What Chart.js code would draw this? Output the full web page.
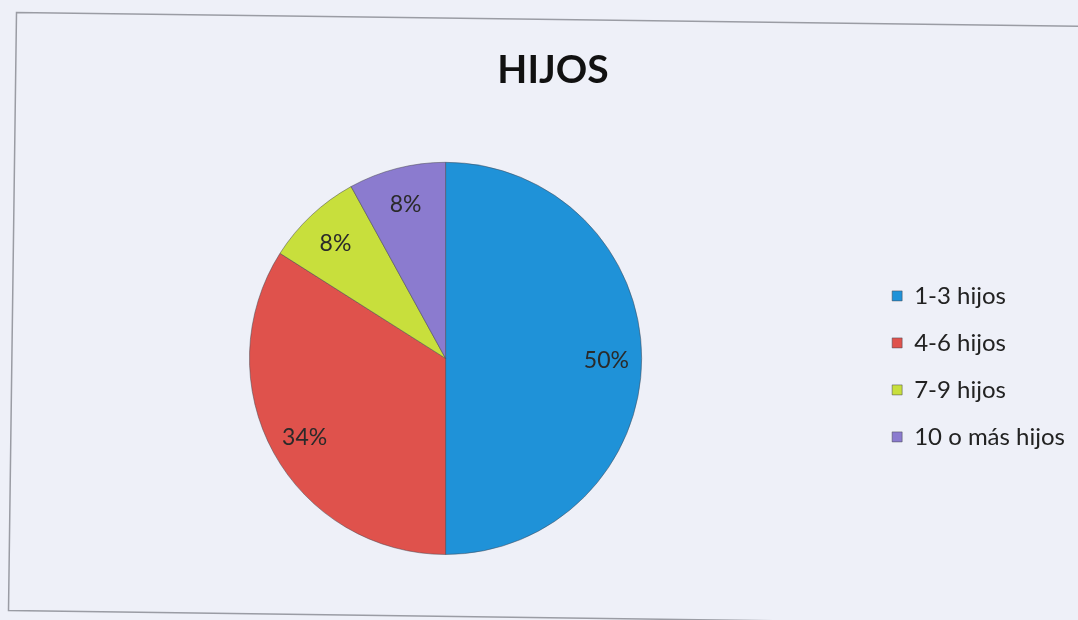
<!DOCTYPE html>
<html>
<head>
<meta charset="utf-8">
<script src="https://cdn.jsdelivr.net/npm/chart.js@4/dist/chart.umd.min.js"></script>
<style>
  html, body { margin: 0; padding: 0; background: #eef0f8; }
  #wrap { width: 1078px; height: 620px; position: relative; }
</style>
</head>
<body>
<div id="wrap"><canvas id="c" width="1078" height="620"></canvas></div>
<script>
const title = 'HIJOS';
const categories = ['1-3 hijos', '4-6 hijos', '7-9 hijos', '10 o más hijos'];
const values = [50, 34, 8, 8];
const colors = ['#1f92d8', '#df524c', '#c8df3c', '#8b7bcf'];

const bgPlugin = {
  id: 'bg',
  afterLayout(chart) {
    if (chart.titleBlock) chart.titleBlock.left += 9;
  },
  beforeDraw(chart) {
    const ctx = chart.ctx;
    ctx.save();
    ctx.fillStyle = '#eef0f8';
    ctx.fillRect(0, 0, chart.width, chart.height);
    ctx.strokeStyle = '#9a9ca4';
    ctx.lineWidth = 1.5;
    ctx.beginPath();
    ctx.moveTo(1090, 26.5);
    ctx.lineTo(16.5, 12.5);
    ctx.lineTo(8.5, 610.5);
    ctx.lineTo(1090, 625);
    ctx.stroke();
    ctx.restore();
  }
};

const labelPlugin = {
  id: 'pieLabels',
  afterDatasetsDraw(chart) {
    const ctx = chart.ctx;
    const meta = chart.getDatasetMeta(0);
    const total = values.reduce((a, b) => a + b, 0);
    ctx.save();
    ctx.font = '23px Lato, "Open Sans", sans-serif';
    ctx.fillStyle = '#2a2a2a';
    ctx.textAlign = 'center';
    ctx.textBaseline = 'middle';
    meta.data.forEach((arc, i) => {
      const p = arc.getProps(['x', 'y', 'startAngle', 'endAngle', 'outerRadius'], true);
      const mid = (p.startAngle + p.endAngle) / 2;
      const r = p.outerRadius * 0.82;
      const txt = Math.round(values[i] / total * 100) + '%';
      ctx.fillText(txt, p.x + Math.cos(mid) * r, p.y + Math.sin(mid) * r + 2);
    });
    ctx.restore();
  }
};

new Chart(document.getElementById('c'), {
  type: 'pie',
  data: {
    labels: categories,
    datasets: [{
      data: values,
      backgroundColor: colors,
      borderColor: 'rgba(70,70,80,0.5)',
      borderWidth: 1
    }]
  },
  options: {
    responsive: false,
    animation: false,
    layout: { padding: { left: 22, right: 3, top: 0, bottom: 65 } },
    plugins: {
      tooltip: { enabled: false },
      title: {
        display: true,
        text: title,
        color: '#111',
        font: { family: 'Lato, "Open Sans", sans-serif', size: 39, weight: 'bold' },
        padding: { top: 47, bottom: 68 }
      },
      legend: {
        position: 'right',
        fullSize: false,
        title: { display: true, text: '', font: { size: 10 }, padding: { top: 2, bottom: 2 } },
        labels: {
          boxWidth: 10,
          boxHeight: 10,
          padding: 23,
          color: '#222',
          font: { family: 'Lato, "Open Sans", sans-serif', size: 24 }
        }
      }
    }
  },
  plugins: [bgPlugin, labelPlugin]
});
</script>
</body>
</html>
